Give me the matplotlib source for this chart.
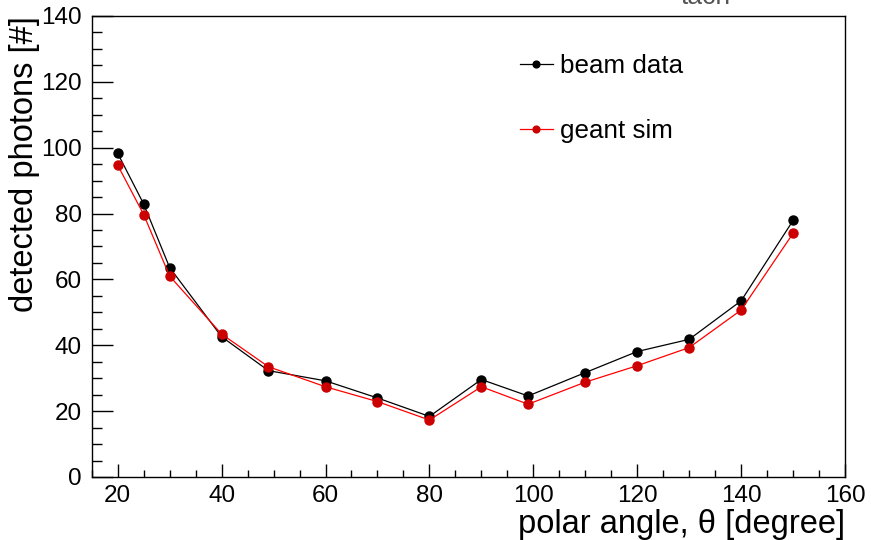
import numpy as np
import matplotlib
matplotlib.use("Agg")
import matplotlib.pyplot as plt
from matplotlib.ticker import MultipleLocator

plt.rcParams['font.family'] = ['Liberation Sans', 'DejaVu Sans']

# polar angle values (degree)
angle = [20, 25, 30, 40, 49, 60, 70, 80, 90, 99, 110, 120, 130, 140, 150]
# detected photons, beam data
beam_data = [98.3, 82.9, 63.6, 42.6, 32.3, 29.2, 24.0, 18.4, 29.6, 24.6, 31.7, 38.1, 41.8, 53.5, 77.9]
# detected photons, geant simulation
geant_sim = [94.7, 79.7, 61.0, 43.4, 33.5, 27.4, 22.9, 17.3, 27.4, 22.1, 28.8, 33.8, 39.3, 50.7, 74.0]

fig = plt.figure(figsize=(8.71, 5.40), dpi=100)
ax = fig.add_axes([0.1053, 0.1167, 0.8649, 0.8537])

ax.plot(angle, beam_data, '-', color='black', lw=0.9, marker='o', ms=6.5,
        mfc='black', mec='black', label='beam data')
ax.plot(angle, geant_sim, '-', color='#ff0000', lw=0.9, marker='o', ms=6.5,
        mfc='#cc0000', mec='#cc0000', label='geant sim')

ax.set_xlim(15, 160)
ax.set_ylim(0, 140)
ax.xaxis.set_major_locator(MultipleLocator(20))
ax.xaxis.set_minor_locator(MultipleLocator(5))
ax.yaxis.set_major_locator(MultipleLocator(20))
ax.yaxis.set_minor_locator(MultipleLocator(5))

ax.tick_params(axis='both', which='both', direction='in', top=False, right=False,
               labelsize=17.5, width=1)
ax.tick_params(axis='y', which='major', length=15, pad=7)
ax.tick_params(axis='y', which='minor', length=7.5)
ax.tick_params(axis='x', which='major', length=9.5, pad=6)
ax.tick_params(axis='x', which='minor', length=5)
for s in ax.spines.values():
    s.set_linewidth(1)

ax.set_xlabel(r'polar angle, θ [degree]', fontsize=23.5, loc='right', labelpad=1)
ax.set_ylabel('detected photons [#]', fontsize=23.5, loc='top')
ax.yaxis.set_label_coords(-0.068, 1.0)

ax.legend(loc='upper left', bbox_to_anchor=(0.568, 0.918), frameon=False,
          fontsize=18.7, labelspacing=1.6, handlelength=1.3, handletextpad=0.25,
          borderaxespad=0, borderpad=0, markerscale=0.75)

# title cut off at the top of the canvas
fig.text(0.782, 1.0 - 4 / 540, 'tach', fontsize=19, color='#555555',
         ha='left', va='baseline')

fig.savefig('out.png', dpi=100)
